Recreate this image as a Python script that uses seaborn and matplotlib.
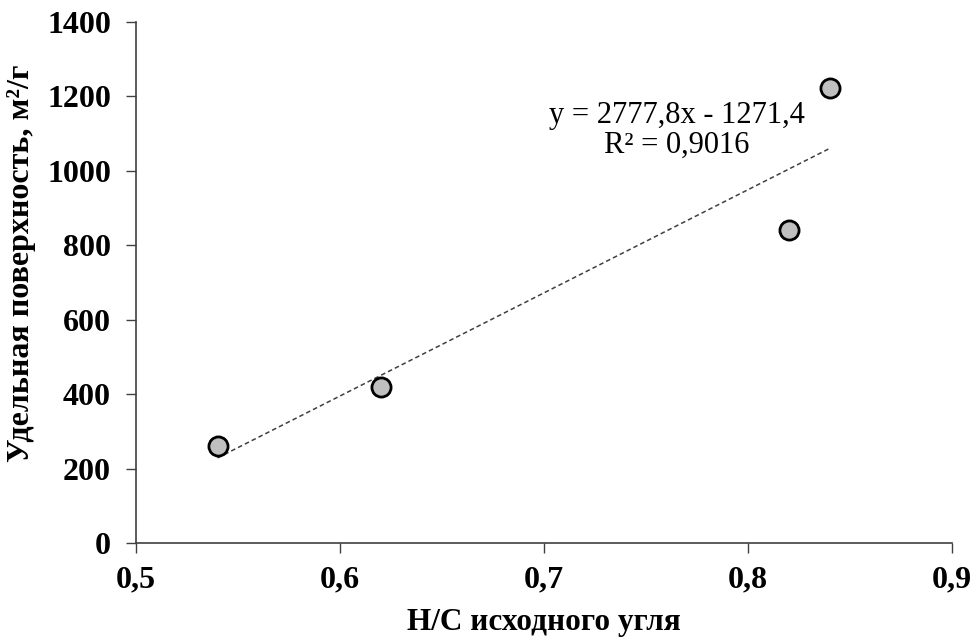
import numpy as np
import pandas as pd
import matplotlib
matplotlib.use("Agg")
import matplotlib.pyplot as plt
import seaborn as sns

hc = [0.54, 0.62, 0.82, 0.84]
surface = [262, 420, 840, 1222]
x_ticks = [0.5, 0.6, 0.7, 0.8, 0.9]
y_ticks = [0, 200, 400, 600, 800, 1000, 1200, 1400]

df = pd.DataFrame({"hc": hc, "surface": surface})

sns.set_style("ticks")
plt.rcParams["font.family"] = ["Liberation Serif", "DejaVu Serif"]
plt.rcParams["text.color"] = "black"
plt.rcParams["axes.labelcolor"] = "black"

fig = plt.figure(figsize=(9.76, 6.39), dpi=100)
ax = fig.add_axes([0.1393, 0.1502, 0.8361, 0.8154])

sns.regplot(data=df, x="hc", y="surface", scatter=False, ci=None, ax=ax,
            line_kws=dict(color="#404040", lw=1.1, ls=(0, (3, 2))))
sns.scatterplot(data=df, x="hc", y="surface", ax=ax, s=190, color="#c0c0c0",
                edgecolor="black", linewidth=2, zorder=3)

ax.text(0.765, 1150, "y = 2777,8x - 1271,4", ha="center", va="center", fontsize=22)
ax.text(0.765, 1068, "R² = 0,9016", ha="center", va="center", fontsize=22)

ax.set_xlim(0.5, 0.9)
ax.set_ylim(0, 1400)
ax.set_xticks(x_ticks)
ax.set_yticks(y_ticks)
ax.set_xticklabels([f"{v:.1f}".replace(".", ",") for v in x_ticks], fontsize=23, fontweight="bold")
ax.set_yticklabels([str(v) for v in y_ticks], fontsize=23, fontweight="bold")
ax.tick_params(length=7, width=1, color="#404040", labelcolor="black")
ax.tick_params(axis="y", pad=11)
ax.tick_params(axis="x", pad=9)
for side in ["left", "bottom"]:
    ax.spines[side].set_color("#404040")
    ax.spines[side].set_linewidth(1.2)
sns.despine(ax=ax)

ax.set_xlabel("Н/С исходного угля", fontsize=22.5, fontweight="bold", va="center")
ax.set_ylabel("Удельная поверхность, м²/г", fontsize=23, fontweight="bold", va="center")
ax.xaxis.set_label_coords(0.5, -0.152)
ax.yaxis.set_label_coords(-0.1397, 0.537)

fig.savefig("out.png", dpi=100)
